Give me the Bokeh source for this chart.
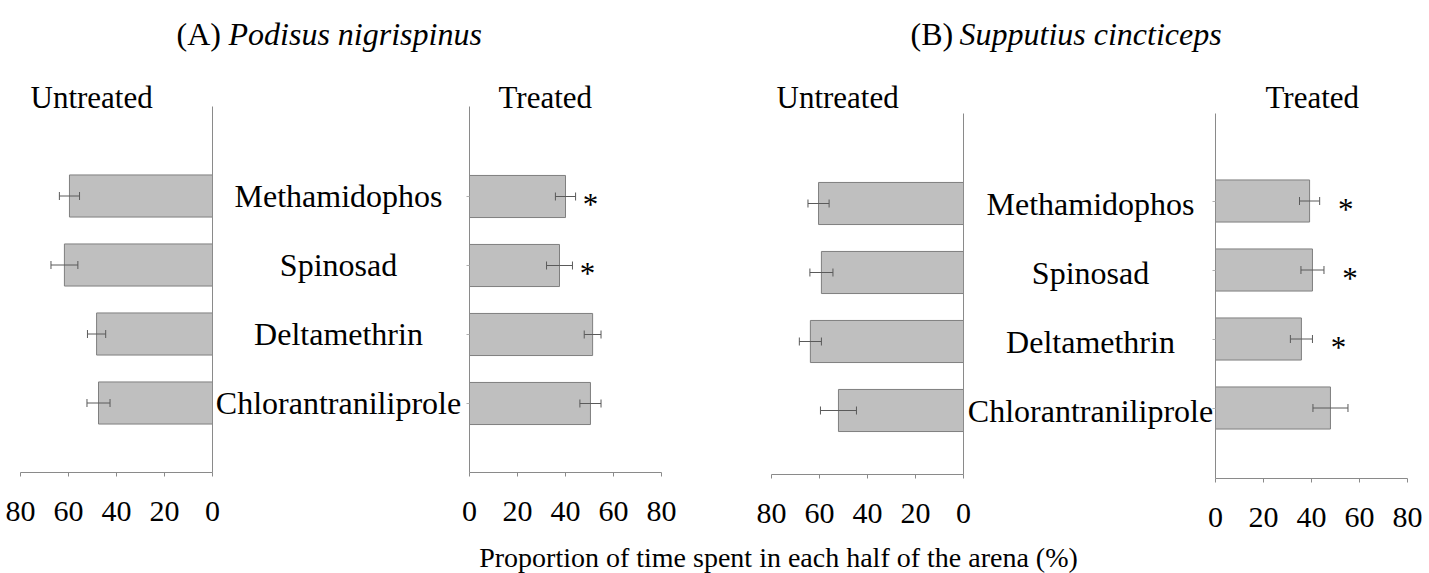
from bokeh.plotting import figure
from bokeh.models import Range1d, LinearAxis, FixedTicker, ColumnDataSource, Whisker, TeeHead
from bokeh.core.properties import value
from bokeh.embed import file_html
from bokeh.resources import INLINE

# ---------------- data ----------------
categories = ["Methamidophos", "Spinosad", "Deltamethrin", "Chlorantraniliprole"]
a_untreated = [59.6, 61.7, 48.3, 47.5]
a_untreated_se = [4.2, 5.6, 3.8, 4.8]
a_treated = [40.0, 37.5, 51.3, 50.4]
a_treated_se = [4.2, 5.4, 3.5, 4.4]
a_sig = ["*", "*", "", ""]
b_untreated = [60.4, 59.2, 63.8, 52.1]
b_untreated_se = [4.4, 4.8, 4.6, 7.5]
b_treated = [39.2, 40.4, 35.8, 47.9]
b_treated_se = [4.2, 4.8, 4.6, 7.3]
b_sig = ["*", "*", "*", ""]
x_ticks = [0, 20, 40, 60, 80]
panel_letters = ["(A)", "(B)"]
species = ["Podisus nigrispinus", "Supputius cincticeps"]
side_labels = ["Untreated", "Treated"]
x_label = "Proportion of time spent in each half of the arena (%)"

# ---------------- layout ----------------
SERIF = "Liberation Serif"
W, H = 1429, 573
X0, X1 = 0, W            # screen coordinates of frame
Y0, Y1 = 0, H
PX = 2.4                 # pixels per percent
GAP = 69                 # pixels between category rows
AXIS_COL = "#8a8a8a"

p = figure(width=W, height=H, x_range=Range1d(X0, X1), y_range=Range1d(Y1, Y0),
           output_backend="svg", toolbar_location=None,
           x_axis_location=None, y_axis_location=None, min_border=0)
p.outline_line_color = None
p.xgrid.visible = False
p.ygrid.visible = False

xrs, yrs = {}, {}
later = []


def add_half(key, zero_x, direction, c0, axis_y, line_top, vals, errs, tick_out,
             sig=None, star_dx=0):
    xrs[key] = Range1d(start=(X0 - zero_x) / (direction * PX), end=(X1 - zero_x) / (direction * PX))
    yrs[key] = Range1d(start=(Y1 - c0) / GAP, end=(Y0 - c0) / GAP)
    idx = list(range(len(categories)))
    src = ColumnDataSource(dict(y=idx, v=vals,
                                lo=[v - e for v, e in zip(vals, errs)],
                                hi=[v + e for v, e in zip(vals, errs)]))
    p.hbar(y="y", left=0, right="v", height=0.61, source=src,
           fill_color="#bfbfbf", line_color="#7f7f7f", line_width=1,
           x_range_name=key, y_range_name=key)
    w = Whisker(base="y", lower="lo", upper="hi", dimension="width", source=src,
                line_color="#5a5a5a", line_width=1, level="annotation",
                lower_head=TeeHead(size=8, line_color="#5a5a5a", line_width=1),
                upper_head=TeeHead(size=8, line_color="#5a5a5a", line_width=1),
                x_range_name=key, y_range_name=key)
    later.append(w)
    # bottom axis
    ax = LinearAxis(x_range_name=key, fixed_location=axis_y, bounds=(0, 80),
                    ticker=FixedTicker(ticks=x_ticks),
                    axis_line_color=AXIS_COL, major_tick_line_color=AXIS_COL,
                    major_tick_in=0, major_tick_out=4, minor_tick_out=0, minor_tick_in=0,
                    major_label_text_font=SERIF, major_label_text_font_size="30px",
                    major_label_text_color="black", major_label_standoff=25)
    p.add_layout(ax, "below")
    # vertical axis line
    vax = LinearAxis(x_range_name=key, y_range_name=key, fixed_location=0,
                     bounds=((line_top - c0) / GAP, (axis_y - c0) / GAP),
                     ticker=FixedTicker(ticks=idx),
                     major_label_overrides={i: "" for i in idx},
                     axis_line_color=AXIS_COL, major_tick_line_color="#b0b0b0",
                     major_tick_in=0, major_tick_out=tick_out,
                     minor_tick_out=0, minor_tick_in=0, major_label_standoff=0)
    p.add_layout(vax, "left")
    if sig is not None:
        rows = [i for i, s in enumerate(sig) if s]
        ssrc = ColumnDataSource(dict(x=[vals[i] + errs[i] for i in rows], y=rows,
                                     t=[sig[i] for i in rows]))
        p.text(x="x", y="y", text="t", source=ssrc, x_range_name=key, y_range_name=key,
               x_offset=star_dx, y_offset=8, text_align="center", text_baseline="alphabetic",
               text_font=value(SERIF), text_font_size="31px", text_color="black")


add_half("Au", 212, -1, 195.5, 472, 106, a_untreated, a_untreated_se, 0)
add_half("At", 469, 1, 196, 472, 106, a_treated, a_treated_se, 3, a_sig, 15)
add_half("Bu", 963, -1, 203, 474, 113, b_untreated, b_untreated_se, 0)
add_half("Bt", 1215, 1, 200.5, 478, 113, b_treated, b_treated_se, 3, b_sig, 26)
p.extra_x_ranges = xrs
p.extra_y_ranges = yrs
for w in later:
    p.add_layout(w)

# category labels (between the two halves of each panel)
for key, mid in (("Au", 338), ("Bu", 1090)):
    p.text(x=[mid] * len(categories), y=list(range(len(categories))), text=categories,
           y_range_name=key, text_align="center", text_baseline="middle",
           text_font=value(SERIF), text_font_size="32px", text_color="black")

# panel titles
for letter, sp, lx, sx in zip(panel_letters, species, (176, 910), (228, 959)):
    p.text(x=[lx], y=[33], text=[letter], text_align="left", text_baseline="alphabetic",
           text_font=value(SERIF), text_font_size="32px", text_color="black")
    p.text(x=[sx], y=[33], text=[sp], text_align="left", text_baseline="alphabetic",
           text_font=value(SERIF), text_font_size="32px", text_font_style="italic",
           text_color="black")

# side labels
for lx, lab in zip((30, 498, 776, 1265), side_labels * 2):
    p.text(x=[lx], y=[97], text=[lab], text_align="left", text_baseline="alphabetic",
           text_font=value(SERIF), text_font_size="31px", text_color="black")

# common x label
p.text(x=[778], y=[557], text=[x_label], text_align="center", text_baseline="alphabetic",
       text_font=value(SERIF), text_font_size="28px", text_color="black")

open("out.html", "w").write(file_html(p, INLINE))
